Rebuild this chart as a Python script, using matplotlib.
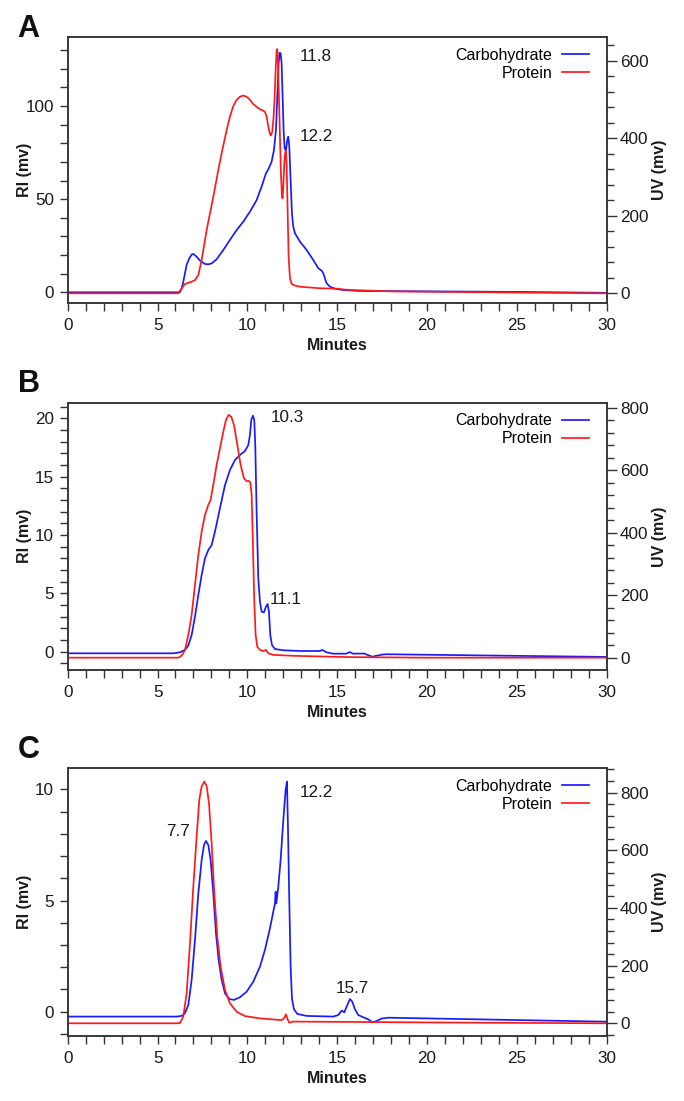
import matplotlib
matplotlib.use("Agg")
import matplotlib.pyplot as plt
from matplotlib.ticker import MultipleLocator

plt.rcParams['font.family'] = ['Liberation Sans', 'DejaVu Sans']

# ---------------- data ----------------
# Panel A  (carbohydrate on RI axis, protein on UV axis)
a_carb_t = [0, 6.0, 6.249, 6.342, 6.434, 6.527, 6.62, 6.768, 6.899, 6.991, 7.176, 7.362, 7.64, 7.826,
            8.011, 8.29, 8.66, 9.031, 9.402, 9.773, 10.144, 10.515, 10.793, 11.035, 11.165, 11.35,
            11.48, 11.591, 11.665, 11.739, 11.795, 11.85, 11.906, 11.962, 12.017, 12.073, 12.147,
            12.221, 12.277, 12.333, 12.407, 12.481, 12.555, 12.649, 12.927, 13.298, 13.669, 13.947,
            14.133, 14.226, 14.318, 14.411, 14.597, 14.875, 15.338, 16.27, 20, 25, 30]
a_carb_ri = [0, 0, 0, 2.1, 5.7, 10.2, 14.7, 18.2, 20.2, 20.6, 19.1, 17.0, 15.2, 15.0,
             15.5, 17.7, 22.7, 28.1, 33.4, 37.9, 43.3, 49.5, 56.7, 63.9, 66.0, 70.1,
             76.4, 87.1, 105, 122.9, 128.6, 128.3, 122.9, 105, 87.1, 77.3, 76.0,
             81.8, 83.5, 78.2, 60.3, 42.4, 35.2, 31.7, 27.2, 22.7, 17.3, 12.9,
             11.6, 10.2, 7.5, 4.8, 3.0, 1.9, 1.2, 0.7, 0.5, 0.2, -0.3]
a_prot_t = [0, 6.0, 6.156, 6.342, 6.527, 6.899, 7.084, 7.27, 7.455, 7.733, 8.104, 8.382, 8.567,
            8.846, 9.031, 9.217, 9.402, 9.588, 9.773, 9.959, 10.144, 10.33, 10.515, 10.701, 10.886,
            10.979, 11.072, 11.165, 11.257, 11.313, 11.387, 11.461, 11.517, 11.573, 11.628, 11.665,
            11.702, 11.758, 11.813, 11.869, 11.925, 11.962, 11.999, 12.054, 12.11, 12.147, 12.184,
            12.24, 12.296, 12.37, 12.463, 12.649, 12.93, 14.04, 15.0, 15.53, 18, 20, 25, 30]
a_prot_uv = [0, 0, 0, 12.8, 24, 30, 34, 47, 86, 163, 249, 318, 361,
             421, 456, 483, 499, 507, 510, 507, 499, 488, 481, 475, 471,
             468, 456, 430, 411, 407, 417, 456, 507, 576, 628, 630,
             593, 507, 404, 309, 249, 245, 275, 335, 365, 368, 335,
             215, 94, 39, 24, 20, 17, 13, 12, 9, 5, 4, 2, 0]

# Panel B
b_carb_t = [0, 5.88, 6.249, 6.527, 6.713, 6.899, 7.084, 7.27, 7.455, 7.64, 7.826, 8.011, 8.197,
            8.475, 8.753, 9.031, 9.31, 9.588, 9.866, 10.051, 10.144, 10.218, 10.31, 10.385, 10.44,
            10.515, 10.608, 10.701, 10.793, 10.923, 11.035, 11.128, 11.202, 11.276, 11.369, 11.536,
            12.0, 12.924, 14.036, 14.166, 14.4, 14.77, 15.51, 15.7, 15.88, 16.5, 16.95, 17.5,
            17.75, 30]
b_carb_ri = [-0.14, -0.14, -0.05, 0.15, 0.52, 1.43, 3.0, 4.86, 6.57, 8.0, 8.71, 9.14, 10.29,
             12.29, 14.28, 15.57, 16.43, 16.86, 17.2, 17.71, 18.57, 19.85, 20.23, 19.85, 17.71,
             12.0, 6.29, 4.29, 3.43, 3.37, 3.86, 4.09, 3.43, 1.43, 0.57, 0.23,
             0.12, 0.06, 0.06, 0.15, -0.05, -0.17, -0.17, -0.03, -0.17, -0.16, -0.43, -0.25,
             -0.22, -0.45]
b_prot_t = [0, 6.156, 6.342, 6.527, 6.713, 6.899, 7.084, 7.27, 7.455, 7.64, 7.826, 7.955, 8.104,
            8.29, 8.475, 8.66, 8.809, 8.957, 9.106, 9.254, 9.44, 9.625, 9.81, 9.959, 10.07,
            10.163, 10.237, 10.31, 10.385, 10.46, 10.552, 10.701, 10.886, 11.035, 11.165, 11.443,
            12.555, 15.51, 20, 30]
b_prot_uv = [0, 0, 6.5, 24.6, 72.6, 137, 233, 329, 403, 457, 489, 505, 553,
             617, 670, 723, 761, 777, 771, 745, 681, 617, 574, 565, 566,
             561, 521, 361, 179, 73, 35, 25, 21, 25, 14, 9,
             6, 2, 0, 0]

# Panel C
c_carb_t = [0, 6.063, 6.342, 6.527, 6.713, 6.899, 7.084, 7.27, 7.455, 7.585, 7.696, 7.826, 7.955,
            8.104, 8.253, 8.401, 8.568, 8.753, 8.994, 9.254, 9.588, 9.959, 10.33, 10.701, 10.979,
            11.257, 11.443, 11.536, 11.573, 11.61, 11.721, 11.851, 12.0, 12.129, 12.203, 12.259,
            12.333, 12.407, 12.481, 12.592, 12.778, 13.298, 14.782, 15.06, 15.246, 15.394, 15.561,
            15.709, 15.839, 15.987, 16.172, 16.45, 16.728, 16.951, 17.192, 17.47, 17.841, 30]
c_carb_ri = [-0.22, -0.22, -0.19, -0.07, 0.3, 1.43, 3.23, 5.32, 6.82, 7.5, 7.68, 7.5, 6.82,
             5.32, 3.53, 2.33, 1.43, 0.83, 0.57, 0.53, 0.65, 0.9, 1.35, 2.03, 2.78,
             3.75, 4.5, 4.87, 5.4, 4.87, 5.62, 6.82, 8.62, 9.97, 10.35, 8.32,
             5.02, 2.03, 0.6, 0.11, -0.1, -0.19, -0.22, -0.15, 0.05, -0.03, 0.3,
             0.57, 0.45, 0.11, -0.15, -0.25, -0.34, -0.48, -0.42, -0.31, -0.27, -0.45]
c_prot_t = [0, 6.063, 6.249, 6.434, 6.62, 6.806, 6.991, 7.176, 7.325, 7.455, 7.603, 7.733, 7.863,
            8.011, 8.16, 8.327, 8.512, 8.753, 9.031, 9.402, 9.866, 10.701, 11.906, 12.036, 12.147,
            12.24, 12.333, 12.555, 15, 20, 30]
c_prot_uv = [0, 0, 1, 23, 104, 277, 474, 647, 775, 821, 838, 823, 763,
             624, 451, 300, 196, 116, 69, 40, 25, 17, 11, 17, 31,
             14, 2, 6, 5, 3, 0]

panel_letters = ["A", "B", "C"]
series_names = ["Carbohydrate", "Protein"]
x_label = "Minutes"
left_label = "RI (mv)"
right_label = "UV (mv)"

# peak annotations: (text, time, RI value, horizontal alignment)
a_notes = [("11.8", 12.93, 126.8, "left"), ("12.2", 12.93, 83.4, "left")]
b_notes = [("10.3", 11.3, 20.1, "left"), ("11.1", 11.26, 4.5, "left")]
c_notes = [("12.2", 12.89, 9.87, "left"), ("7.7", 6.81, 8.1, "right"), ("15.7", 15.82, 1.05, "center")]

# ---------------- layout ----------------
W, H = 684, 1101
fig = plt.figure(figsize=(W / 100, H / 100), dpi=100)

BLUE = "#1a1aff"
RED = "#ff1a1a"
SPINE = "#333333"
TXT = "#1a1a1a"
FS = 11.5      # legend / axis titles
FS_TICK = 12.3 # tick labels and peak labels

panels = [
    dict(top=37.3, bottom=302.7, carb=(a_carb_t, a_carb_ri), prot=(a_prot_t, a_prot_uv),
         ylim=(-5.6, 136.9), y2lim=(-24.2, 660.3), ymaj=50, ymin=10, y2maj=200, y2min=40,
         notes=a_notes, letter_base=37.0),
    dict(top=402.7, bottom=670.0, carb=(b_carb_t, b_carb_ri), prot=(b_prot_t, b_prot_uv),
         ylim=(-1.57, 21.34), y2lim=(-39.4, 816), ymaj=5, ymin=1, y2maj=200, y2min=40,
         notes=b_notes, letter_base=391.7),
    dict(top=768.3, bottom=1035.7, carb=(c_carb_t, c_carb_ri), prot=(c_prot_t, c_prot_uv),
         ylim=(-1.08, 10.95), y2lim=(-43, 884), ymaj=5, ymin=1, y2maj=200, y2min=40,
         notes=c_notes, letter_base=758.0),
]

left_px, right_px = 67.7, 606.7
aw = right_px - left_px

for letter, p in zip(panel_letters, panels):
    ah = p["bottom"] - p["top"]
    ax = fig.add_axes([left_px / W, 1 - p["bottom"] / H, aw / W, ah / H])
    ax2 = ax.twinx()
    l1, = ax.plot(p["carb"][0], p["carb"][1], color=BLUE, lw=1.25, label=series_names[0],
                  zorder=3, solid_joinstyle="round")
    l2, = ax2.plot(p["prot"][0], p["prot"][1], color=RED, lw=1.25, label=series_names[1],
                   zorder=2, solid_joinstyle="round")

    ax.set_xlim(0, 30)
    ax.set_ylim(*p["ylim"])
    ax2.set_ylim(*p["y2lim"])
    ax.xaxis.set_major_locator(MultipleLocator(5))
    ax.xaxis.set_minor_locator(MultipleLocator(1))
    ax.yaxis.set_major_locator(MultipleLocator(p["ymaj"]))
    ax.yaxis.set_minor_locator(MultipleLocator(p["ymin"]))
    ax2.yaxis.set_major_locator(MultipleLocator(p["y2maj"]))
    ax2.yaxis.set_minor_locator(MultipleLocator(p["y2min"]))

    for a in (ax, ax2):
        for s in a.spines.values():
            s.set_color(SPINE)
            s.set_linewidth(1.1)
    ax.tick_params(axis="x", which="both", direction="out", length=5.5, width=1.0,
                   color=SPINE, labelsize=FS_TICK, labelcolor=TXT, pad=5.5)
    ax.tick_params(axis="y", which="both", direction="out", length=6.0, width=1.0,
                   color=SPINE, labelsize=FS_TICK, labelcolor=TXT, pad=4.0)
    ax2.tick_params(axis="y", which="major", direction="out", length=7.2, width=1.0,
                    color=SPINE, labelsize=FS_TICK, labelcolor=TXT, pad=2.3)
    ax2.tick_params(axis="y", which="minor", direction="out", length=4.8, width=1.0, color=SPINE)

    ax.set_xlabel(x_label, fontsize=FS, fontweight="bold", color=TXT)
    ax.xaxis.set_label_coords(0.5, -35.3 / ah)
    ax.set_ylabel(left_label, fontsize=FS, fontweight="bold", color=TXT)
    ax.yaxis.set_label_coords((31.7 - left_px) / aw, 0.5)
    ax2.set_ylabel(right_label, fontsize=FS, fontweight="bold", color=TXT)
    ax2.yaxis.set_label_coords((651.7 - left_px) / aw, 0.5)

    for txt, tx, ty, ha in p["notes"]:
        ax.text(tx, ty, txt, fontsize=FS_TICK, ha=ha, va="center", color=TXT, zorder=5)

    ax2.legend(handles=[l1, l2], loc="upper right", frameon=False, markerfirst=False,
               fontsize=FS, handlelength=1.7, handletextpad=0.58, labelspacing=0.2,
               borderpad=0, borderaxespad=0,
               bbox_to_anchor=(1 - 17.7 / aw, 1 - 10.5 / ah))

    fig.text(17.5 / W, 1 - p["letter_base"] / H, letter, fontsize=22, fontweight="bold",
             ha="left", va="baseline", color="#111111")

fig.savefig("out.png", dpi=100)
